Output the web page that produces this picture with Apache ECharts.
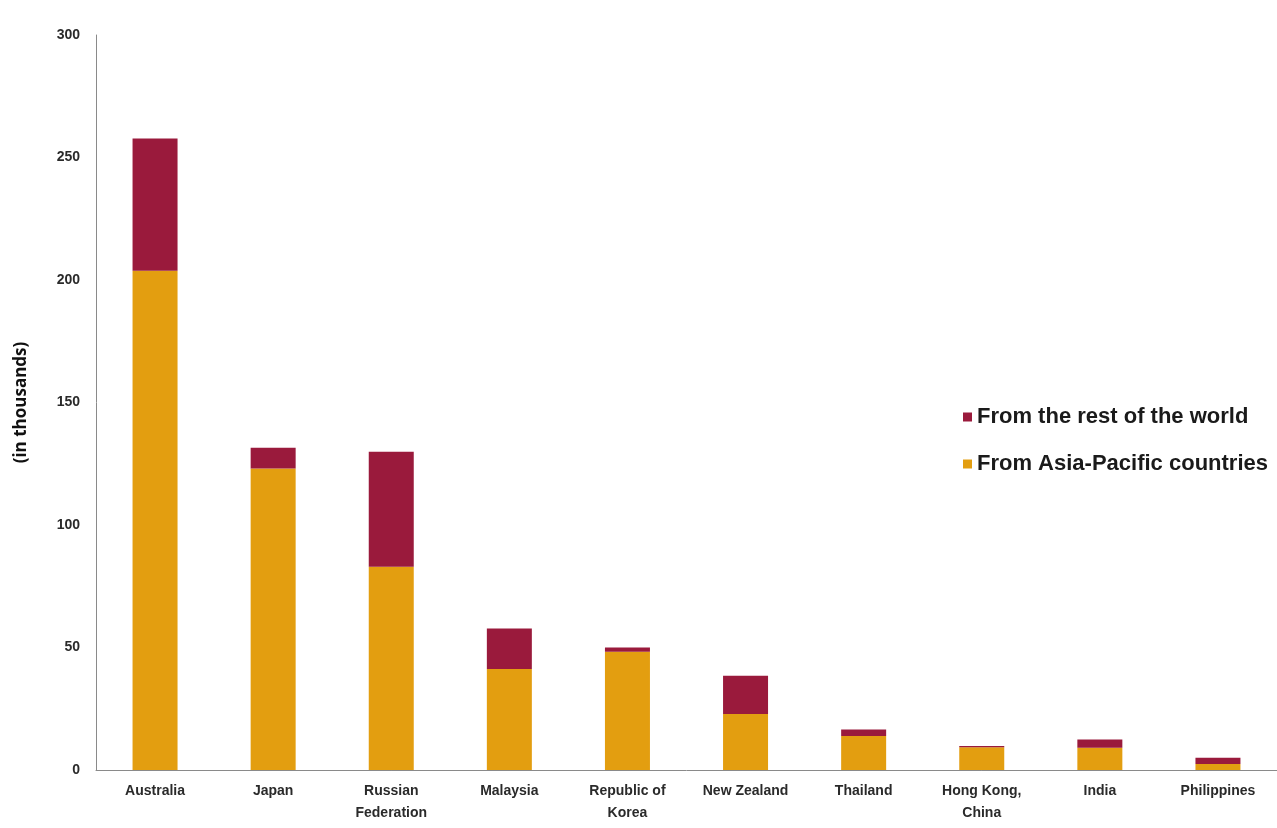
<!DOCTYPE html>
<html>
<head>
<meta charset="utf-8">
<script src="https://cdn.jsdelivr.net/npm/echarts@6/dist/echarts.min.js"></script>
<style>
html,body{margin:0;padding:0;background:#fff;}
#chart{width:1277px;height:828px;}
</style>
</head>
<body>
<div id="chart"></div>
<script>
var categories = ["Australia", "Japan", "Russian\nFederation", "Malaysia", "Republic of\nKorea", "New Zealand", "Thailand", "Hong Kong,\nChina", "India", "Philippines"];
var asiaPacific = [203.8, 123.1, 83.0, 41.2, 48.3, 22.9, 13.9, 9.3, 9.1, 2.4];
var restOfWorld = [54.0, 8.4, 46.9, 16.6, 1.7, 15.6, 2.6, 0.5, 3.4, 2.6];
var yTicks = [0, 50, 100, 150, 200, 250, 300];

var chart = echarts.init(document.getElementById('chart'));
chart.setOption({
  backgroundColor: '#ffffff',
  animation: false,
  grid: {left: 96, right: 0, top: 35, bottom: 58},
  legend: {
    orient: 'vertical',
    left: 958, top: 401,
    itemWidth: 9, itemHeight: 9, itemGap: 25,
    icon: 'rect',
    data: ['From the rest of the world', 'From Asia-Pacific countries'],
    textStyle: {fontFamily: 'Liberation Sans', fontWeight: 'bold', fontSize: 22, color: '#1a1a1a'}
  },
  xAxis: {
    type: 'category',
    data: categories,
    axisLine: {lineStyle: {color: '#8a8a8a', width: 1}},
    axisTick: {show: false},
    axisLabel: {fontFamily: 'Liberation Sans', fontWeight: 'bold', fontSize: 14, color: '#2a2a2a', lineHeight: 22, margin: 10, interval: 0}
  },
  yAxis: {
    type: 'value',
    min: 0, max: 300, interval: 50,
    name: '(in thousands)',
    nameLocation: 'middle',
    nameGap: 66,
    nameRotate: 90,
    nameTextStyle: {fontFamily: 'Open Sans', fontWeight: 'bold', fontSize: 17, color: '#111'},
    axisLine: {show: true, lineStyle: {color: '#8a8a8a', width: 1}},
    axisTick: {show: false},
    splitLine: {show: false},
    axisLabel: {
      fontFamily: 'Liberation Sans', fontWeight: 'bold', fontSize: 14, color: '#2a2a2a', margin: 16,
      formatter: function (v) { return yTicks.indexOf(v) >= 0 ? String(v) : ''; }
    }
  },
  series: [
    {
      name: 'From Asia-Pacific countries',
      type: 'bar', stack: 'total',
      data: asiaPacific,
      barWidth: 45,
      itemStyle: {color: '#E39E10'}
    },
    {
      name: 'From the rest of the world',
      type: 'bar', stack: 'total',
      data: restOfWorld,
      barWidth: 45,
      itemStyle: {color: '#9A1A3C'}
    }
  ]
});
</script>
</body>
</html>
